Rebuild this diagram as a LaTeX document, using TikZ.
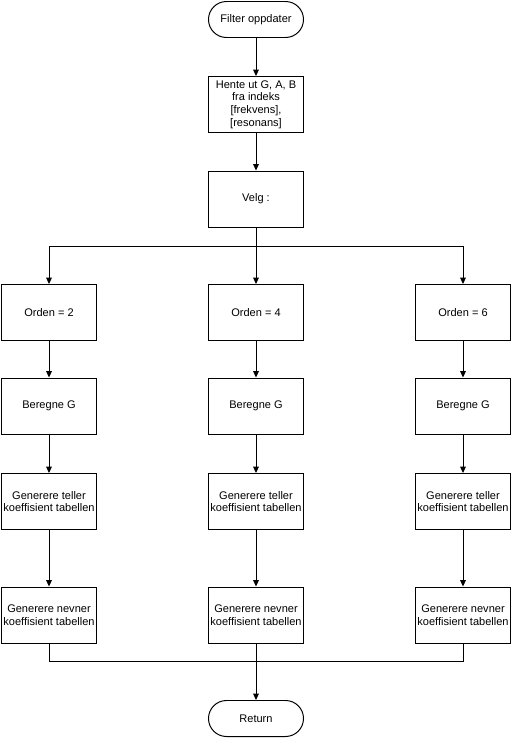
\documentclass[tikz,border=0pt]{standalone}
\usepackage{fontspec}
\setmainfont{Liberation Sans}
\usetikzlibrary{arrows.meta}
\begin{document}
\begin{tikzpicture}[x=0.025cm, y=-0.025cm, >={Triangle[length=4.5pt, width=4pt]},
    every path/.style={line width=0.7pt},
    stepbox/.style={draw, rectangle, minimum width=2.375cm, minimum height=1.4cm, align=center, inner sep=0.8pt, font=\fontsize{7.85}{9.1}\selectfont},
    termbox/.style={draw, rounded corners=0.45cm, minimum width=2.375cm, minimum height=0.9cm, font=\fontsize{7.85}{9.1}\selectfont}]
    \useasboundingbox (0,0) rectangle (511,738);
    \node[termbox] (start) at (256,19.5) {Filter oppdater};
    \node[stepbox] (hente) at (256,104.5) {Hente ut G, A, B\\fra indeks\\{[frekvens],}\\{[resonans]}};
    \node[stepbox] (velg) at (256,199) {Velg :};
    % three branches
    \node[stepbox] (o2) at (49,312.5) {Orden = 2};
    \node[stepbox] (o4) at (256,312.5) {Orden = 4};
    \node[stepbox] (o6) at (463,312.5) {Orden = 6};
    \node[stepbox] (g2) at (49,406) {Beregne G};
    \node[stepbox] (g4) at (256,406) {Beregne G};
    \node[stepbox] (g6) at (463,406) {Beregne G};
    \node[stepbox] (t2) at (49,501.5) {Generere teller\\koeffisient tabellen};
    \node[stepbox] (t4) at (256,501.5) {Generere teller\\koeffisient tabellen};
    \node[stepbox] (t6) at (463,501.5) {Generere teller\\koeffisient tabellen};
    \node[stepbox] (n2) at (49,615) {Generere nevner\\koeffisient tabellen};
    \node[stepbox] (n4) at (256,615) {Generere nevner\\koeffisient tabellen};
    \node[stepbox] (n6) at (463,615) {Generere nevner\\koeffisient tabellen};
    \node[termbox] (ret) at (256,718.5) {Return};
    \coordinate (split) at (256,246);
    \coordinate (join) at (256,661.5);
    \draw[->] (start) -- (hente);
    \draw[->] (hente) -- (velg);
    \draw[->] (velg) -- (o4);
    \draw[->] (split) -| (o2);
    \draw[->] (split) -| (o6);
    \foreach \c in {2,4,6} {
        \draw[->] (o\c) -- (g\c);
        \draw[->] (g\c) -- (t\c);
        \draw[->] (t\c) -- (n\c);
    }
    \draw (n2) |- (join);
    \draw (n6) |- (join);
    \draw[->] (n4) -- (ret);
\end{tikzpicture}
\end{document}
